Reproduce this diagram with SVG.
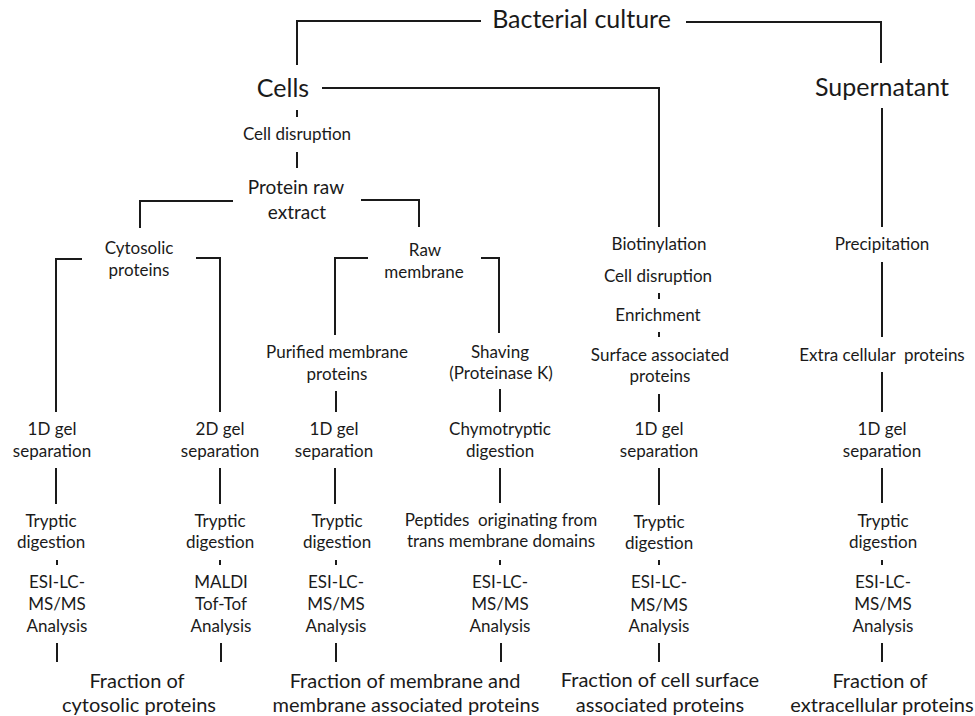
<svg xmlns="http://www.w3.org/2000/svg" width="975" height="716" viewBox="0 0 975 716">
<style>
text{font-family:Lato,"Open Sans","Liberation Sans",sans-serif;fill:#1a1a1a;text-anchor:middle}
.s{font-size:17px}
.m{font-size:19px}
.b{font-size:25px}
.f{font-size:20px}
#connectors polyline,#connectors line{fill:none;stroke:#1a1a1a;stroke-width:2}
</style>
<rect width="975" height="716" fill="#ffffff"/>
<g id="connectors">
<polyline points="297,65 297,21 481,21"/>
<polyline points="686,22 881,22 881,63"/>
<line x1="297" y1="110" x2="297" y2="117"/>
<line x1="297" y1="152" x2="297" y2="168"/>
<polyline points="322,88 659,88 659,227"/>
<line x1="882" y1="108" x2="882" y2="227"/>
<polyline points="233,201 140,201 140,228"/>
<polyline points="361,200 419,200 419,227"/>
<polyline points="82,259 56,259 56,412"/>
<polyline points="196,258 220,258 220,412"/>
<polyline points="368,258 335,258 335,335"/>
<polyline points="481,258 499,258 499,333"/>
<line x1="336" y1="391" x2="336" y2="412"/>
<line x1="500" y1="389" x2="500" y2="412"/>
<line x1="659" y1="293" x2="659" y2="299"/>
<line x1="659" y1="332" x2="659" y2="337"/>
<line x1="659" y1="394" x2="659" y2="412"/>
<line x1="882" y1="262" x2="882" y2="337"/>
<line x1="882" y1="372" x2="882" y2="412"/>
<line x1="56" y1="468" x2="56" y2="504"/>
<line x1="220" y1="468" x2="220" y2="504"/>
<line x1="335" y1="468" x2="335" y2="504"/>
<line x1="500" y1="468" x2="500" y2="503"/>
<line x1="659" y1="468" x2="659" y2="505"/>
<line x1="882" y1="468" x2="882" y2="503"/>
<line x1="57" y1="560" x2="57" y2="565"/>
<line x1="220" y1="560" x2="220" y2="565"/>
<line x1="336" y1="560" x2="336" y2="565"/>
<line x1="500" y1="560" x2="500" y2="565"/>
<line x1="659" y1="560" x2="659" y2="565"/>
<line x1="882" y1="560" x2="882" y2="565"/>
<line x1="57" y1="643" x2="57" y2="662"/>
<line x1="221" y1="643" x2="221" y2="662"/>
<line x1="336" y1="643" x2="336" y2="662"/>
<line x1="501" y1="643" x2="501" y2="662"/>
<line x1="659" y1="643" x2="659" y2="662"/>
<line x1="882" y1="643" x2="882" y2="662"/>
</g>
<g id="n-bacterial"><text class="b" x="581.5" y="28">Bacterial culture</text></g>
<g id="n-cells"><text class="b" x="283" y="97">Cells</text></g>
<g id="n-supernatant"><text class="b" x="882" y="96">Supernatant</text></g>
<g id="n-cell-disruption-1"><text class="s" x="297" y="140">Cell disruption</text></g>
<g id="n-protein-raw-extract"><text class="m" x="296" y="194">Protein raw</text><text class="m" x="297" y="219">extract</text></g>
<g id="n-cytosolic"><text class="s" x="139" y="254">Cytosolic</text><text class="s" x="139" y="276">proteins</text></g>
<g id="n-raw-membrane"><text class="s" x="425" y="256">Raw</text><text class="s" x="424" y="278">membrane</text></g>
<g id="n-biotinylation"><text class="s" x="659" y="250">Biotinylation</text></g>
<g id="n-cell-disruption-2"><text class="s" x="658" y="282">Cell disruption</text></g>
<g id="n-enrichment"><text class="s" x="658" y="321">Enrichment</text></g>
<g id="n-surface"><text class="s" x="660" y="361">Surface associated</text><text class="s" x="660" y="382">proteins</text></g>
<g id="n-precipitation"><text class="s" x="882" y="250">Precipitation</text></g>
<g id="n-extracellular"><text class="s" x="882" y="361" xml:space="preserve">Extra cellular  proteins</text></g>
<g id="n-purified"><text class="s" x="337" y="358">Purified membrane</text><text class="s" x="337" y="380">proteins</text></g>
<g id="n-shaving"><text class="s" x="500" y="358">Shaving</text><text class="s" x="501" y="379">(Proteinase K)</text></g>
<g id="n-sep-1"><text class="s" x="52" y="435">1D gel</text><text class="s" x="52" y="457">separation</text></g>
<g id="n-sep-2"><text class="s" x="220" y="435">2D gel</text><text class="s" x="220" y="457">separation</text></g>
<g id="n-sep-3"><text class="s" x="334" y="435">1D gel</text><text class="s" x="334" y="457">separation</text></g>
<g id="n-chymo"><text class="s" x="500" y="435">Chymotryptic</text><text class="s" x="500" y="457">digestion</text></g>
<g id="n-sep-5"><text class="s" x="659" y="435">1D gel</text><text class="s" x="659" y="457">separation</text></g>
<g id="n-sep-6"><text class="s" x="882" y="435">1D gel</text><text class="s" x="882" y="457">separation</text></g>
<g id="n-tryp-1"><text class="s" x="51" y="527">Tryptic</text><text class="s" x="51" y="548">digestion</text></g>
<g id="n-tryp-2"><text class="s" x="220" y="527">Tryptic</text><text class="s" x="220" y="548">digestion</text></g>
<g id="n-tryp-3"><text class="s" x="337" y="527">Tryptic</text><text class="s" x="337" y="548">digestion</text></g>
<g id="n-peptides"><text class="s" x="501" y="526" xml:space="preserve">Peptides  originating from</text><text class="s" x="501" y="547">trans membrane domains</text></g>
<g id="n-tryp-5"><text class="s" x="659" y="528">Tryptic</text><text class="s" x="659" y="549">digestion</text></g>
<g id="n-tryp-6"><text class="s" x="883" y="527">Tryptic</text><text class="s" x="883" y="548">digestion</text></g>
<g id="n-ms-1"><text class="s" x="57" y="588">ESI-LC-</text><text class="s" x="57" y="610">MS/MS</text><text class="s" x="57" y="632">Analysis</text></g>
<g id="n-ms-2"><text class="s" x="221" y="588">MALDI</text><text class="s" x="221" y="610">Tof-Tof</text><text class="s" x="221" y="632">Analysis</text></g>
<g id="n-ms-3"><text class="s" x="336" y="588">ESI-LC-</text><text class="s" x="336" y="610">MS/MS</text><text class="s" x="336" y="632">Analysis</text></g>
<g id="n-ms-4"><text class="s" x="500" y="588">ESI-LC-</text><text class="s" x="500" y="610">MS/MS</text><text class="s" x="500" y="632">Analysis</text></g>
<g id="n-ms-5"><text class="s" x="659" y="588">ESI-LC-</text><text class="s" x="659" y="611">MS/MS</text><text class="s" x="659" y="632">Analysis</text></g>
<g id="n-ms-6"><text class="s" x="883" y="588">ESI-LC-</text><text class="s" x="883" y="610">MS/MS</text><text class="s" x="883" y="632">Analysis</text></g>
<g id="n-frac-cyto"><text class="f" x="137" y="688">Fraction of</text><text class="f" x="139" y="712">cytosolic proteins</text></g>
<g id="n-frac-mem"><text class="f" x="405" y="688">Fraction of membrane and</text><text class="f" x="406" y="712">membrane associated proteins</text></g>
<g id="n-frac-surf"><text class="f" x="660" y="687">Fraction of cell surface</text><text class="f" x="660" y="712">associated proteins</text></g>
<g id="n-frac-extra"><text class="f" x="880" y="688">Fraction of</text><text class="f" x="882" y="712">extracellular proteins</text></g>
</svg>
